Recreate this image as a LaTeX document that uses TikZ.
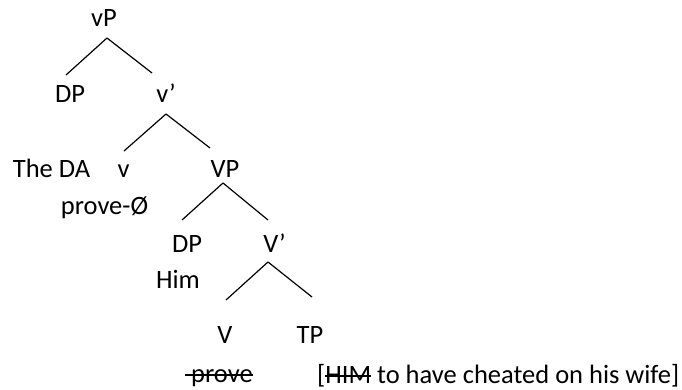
\documentclass[tikz,border=0pt]{standalone}
\usepackage{fontspec}
\setmainfont{Carlito}
\usetikzlibrary{calc,positioning}
\newcommand{\treefont}{\fontsize{26.5}{30}\selectfont}
\newlength{\strklen}
\newcommand{\strk}[1]{\settowidth{\strklen}{#1}\rlap{\rule[6.5pt]{\strklen}{1.1pt}}#1}
\tikzset{
  lbl/.style={anchor=base,inner sep=0pt,font=\treefont},
  branch/.style={line width=1.2pt,black},
}

\begin{document}
\begin{tikzpicture}[x=1pt,y=-1pt]
  \useasboundingbox (0,0) rectangle (682,390);
  % tree labels
  \node[lbl] (vP)   at (104,27)    {vP};
  \node[lbl] (DPa)  at (70,103)    {DP};
  \node[lbl] (vbar) at (166,103)   {v’};
  \node[lbl] (theDA) at (51.5,178) {The DA};
  \node[lbl] (v)    at (123.5,178) {v};
  \node[lbl] (VP)   at (225,178)   {VP};
  \node[lbl] (prv)  at (104.5,214) {prove-Ø};
  \node[lbl] (DPb)  at (187,252)   {DP};
  \node[lbl] (Vbar) at (274.5,252) {V’};
  \node[lbl] (him)  at (178,288)   {Him};
  \node[lbl] (V)    at (225,343)   {V};
  \node[lbl] (TP)   at (310,343)   {TP};
  % bottom line
  \node[lbl,anchor=base west] (cpy) at (185,382) {\strk{\hspace{6pt}prove}};
  \node[lbl,anchor=base west] (cls) at (317,383) {[\strk{HIM} to have cheated on his wife]};
  % branches
  \foreach \a/\ax/\ay/\b/\bx/\by in {vP/3/11/DPa/-4/-28, vP/3/11/vbar/-14/-30,
      vbar/0/11/v/0.5/-27, vbar/0/11/VP/-15/-30,
      VP/-2/5/DPb/-5/-32, VP/-2/5/Vbar/-6.5/-32,
      Vbar/-6.5/10/V/1/-43, Vbar/-6.5/10/TP/2/-46}
    \draw[branch] ($(\a.base)+(\ax,\ay)$) -- ($(\b.base)+(\bx,\by)$);
\end{tikzpicture}
\end{document}
